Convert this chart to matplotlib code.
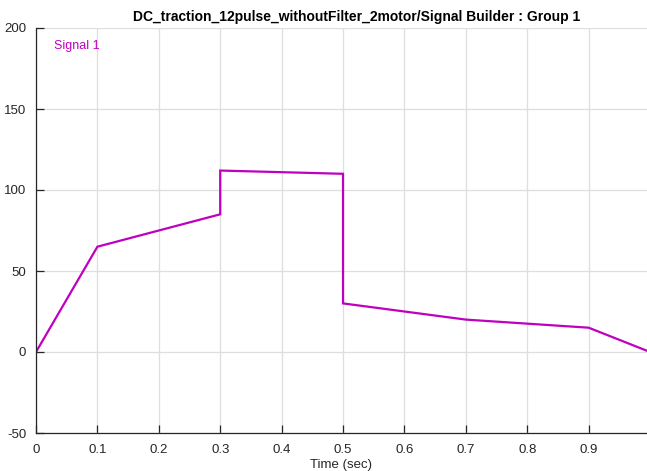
import matplotlib
matplotlib.use("Agg")
import matplotlib.pyplot as plt

# Signal Builder breakpoints
t = [0, 0.1, 0.3, 0.3, 0.5, 0.5, 0.7, 0.9, 1.0]
sig = [0, 65, 85, 112, 110, 30, 20, 15, 0]
x_ticks = [0, 0.1, 0.2, 0.3, 0.4, 0.5, 0.6, 0.7, 0.8, 0.9]
x_labels = ["0", "0.1", "0.2", "0.3", "0.4", "0.5", "0.6", "0.7", "0.8", "0.9"]
y_ticks = [-50, 0, 50, 100, 150, 200]

plt.rcParams['font.family'] = ['Liberation Sans', 'DejaVu Sans']
plt.rcParams['axes.unicode_minus'] = False

fig = plt.figure(figsize=(6.47, 4.71), dpi=100)
ax = fig.add_axes([36/647, 1 - 433/471, 1 - 36/647, (433 - 28)/471])

ax.plot(t, sig, color="#BF00BF", lw=1.6, solid_joinstyle="miter")
ax.text(0.03, 189, "Signal 1", color="#BF00BF", fontsize=9, va="center")

ax.set_xlim(0, 0.995)
ax.set_ylim(-50, 200)
ax.set_xticks(x_ticks)
ax.set_xticklabels(x_labels)
ax.set_yticks(y_ticks)
ax.grid(True, color="#dedede", lw=0.9)
ax.set_axisbelow(True)
for s in ["top", "right"]:
    ax.spines[s].set_visible(False)
for s in ["left", "bottom"]:
    ax.spines[s].set_color("#262626")
    ax.spines[s].set_linewidth(0.9)
ax.tick_params(direction="in", length=6, width=0.9, colors="#262626", labelsize=9.5)
ax.tick_params(axis="y", pad=7)
ax.tick_params(axis="x", pad=8)

ax.set_xlabel("Time (sec)", fontsize=9.5, color="#262626", labelpad=2)
fig.text(357/647, 1 - 17/471, "DC_traction_12pulse_withoutFilter_2motor/Signal Builder : Group 1",
         fontsize=10, fontweight="bold", color="#000000", ha="center", va="center")

fig.savefig("out.png", dpi=100)
